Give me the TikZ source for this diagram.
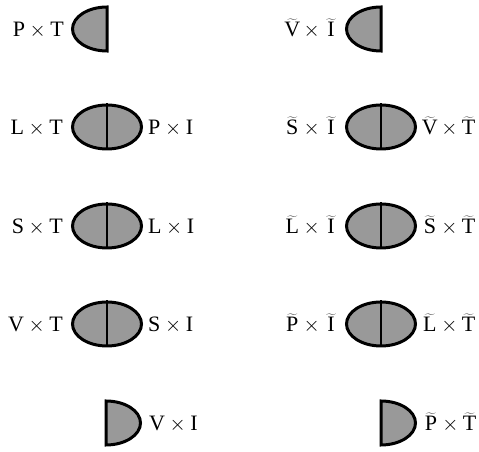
\documentclass[tikz,border=0pt]{standalone}
\usepackage{fontspec}
\setmainfont{Liberation Serif}
\usetikzlibrary{positioning,shapes.geometric}
\newcommand{\prodpair}[2]{$\mathrm{#1}\times\mathrm{#2}$}
% tilde over a letter, at least as wide as an L
\newcommand{\tld}[1]{\mbox{\ooalign{$\widetilde{\phantom{\mathrm{L}}}$\cr\hidewidth$\mathrm{#1}$\hidewidth\cr}}}
\newcommand{\tildepair}[2]{$\tld{#1}\times\tld{#2}$}
\tikzset{
  lens/.style={draw=black, line width=3pt, ellipse, fill=black!40,
    minimum width=69pt, minimum height=44pt, inner sep=0pt},
  half/.style={draw=black, line width=3pt, fill=black!40},
  seam/.style={draw=black, line width=2.8pt},
  pair/.style={font=\fontsize{22}{24}\selectfont, inner sep=0pt,
    text height=15pt, text depth=0pt}
}
\begin{document}
\begin{tikzpicture}[x=1pt,y=1pt]
    \useasboundingbox (0,0) rectangle (479,452);
    % left column
    \coordinate (pt) at (107,423);
    \draw[half] ([yshift=22pt]pt) arc[start angle=90,end angle=270,x radius=34.5,y radius=22] -- cycle;
    \node[pair, left=43pt of pt] (ptl) {\prodpair{P}{T}};
    \node[lens] (e1) at (107,325) {};
    \draw[seam] (e1.north) -- (e1.south);
    \node[pair, left=8pt of e1] (ltl) {\prodpair{L}{T}};
    \node[pair, right=5pt of e1] (pil) {\prodpair{P}{I}};
    \node[lens] (e2) at (107,226) {};
    \draw[seam] (e2.north) -- (e2.south);
    \node[pair, left=8pt of e2] (stl) {\prodpair{S}{T}};
    \node[pair, right=5pt of e2] (lil) {\prodpair{L}{I}};
    \node[lens] (e3) at (107,128) {};
    \draw[seam] (e3.north) -- (e3.south);
    \node[pair, left=8pt of e3] (vtl) {\prodpair{V}{T}};
    \node[pair, right=5pt of e3] (sil) {\prodpair{S}{I}};
    \coordinate (vi) at (106,29);
    \draw[half] ([yshift=22pt]vi) arc[start angle=90,end angle=-90,x radius=34.5,y radius=22] -- cycle;
    \node[pair, right=43pt of vi] (vil) {\prodpair{V}{I}};
    % right column
    \coordinate (vti) at (381,423);
    \draw[half] ([yshift=22pt]vti) arc[start angle=90,end angle=270,x radius=34.5,y radius=22] -- cycle;
    \node[pair, left=43pt of vti] (vtil) {\tildepair{V}{I}};
    \node[lens] (f1) at (381,325) {};
    \draw[seam] (f1.north) -- (f1.south);
    \node[pair, left=7pt of f1] (stil) {\tildepair{S}{I}};
    \node[pair, right=6pt of f1] (vttl) {\tildepair{V}{T}};
    \node[lens] (f2) at (381,226) {};
    \draw[seam] (f2.north) -- (f2.south);
    \node[pair, left=7pt of f2] (ltil) {\tildepair{L}{I}};
    \node[pair, right=6pt of f2] (sttl) {\tildepair{S}{T}};
    \node[lens] (f3) at (381,128) {};
    \draw[seam] (f3.north) -- (f3.south);
    \node[pair, left=7pt of f3] (ptil) {\tildepair{P}{I}};
    \node[pair, right=6pt of f3] (lttl) {\tildepair{L}{T}};
    \coordinate (ptt) at (381,29);
    \draw[half] ([yshift=22pt]ptt) arc[start angle=90,end angle=-90,x radius=34.5,y radius=22] -- cycle;
    \node[pair, right=43pt of ptt] (pttl) {\tildepair{P}{T}};
\end{tikzpicture}
\end{document}
